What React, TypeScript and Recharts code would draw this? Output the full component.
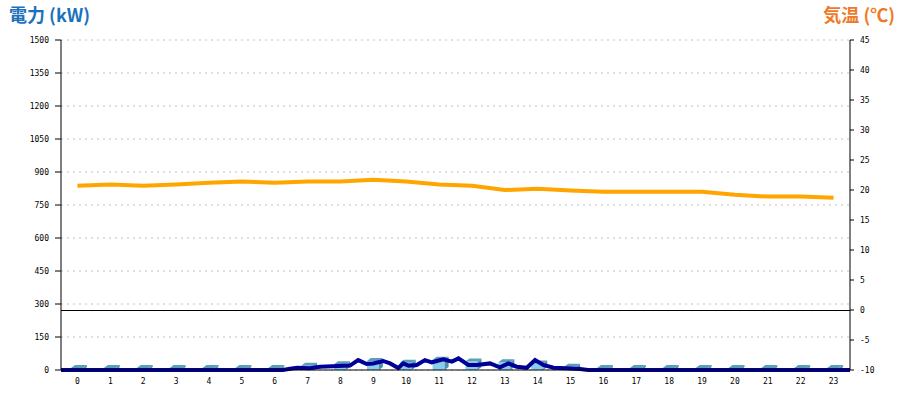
import { ComposedChart, Bar, Line, XAxis, YAxis, CartesianGrid, ReferenceLine } from 'recharts';

const hours = [0, 1, 2, 3, 4, 5, 6, 7, 8, 9, 10, 11, 12, 13, 14, 15, 16, 17, 18, 19, 20, 21, 22, 23];
const temps = [20.7, 20.9, 20.7, 20.9, 21.2, 21.4, 21.2, 21.4, 21.4, 21.7, 21.4, 20.9, 20.7, 20.0, 20.2, 19.9, 19.7, 19.7, 19.7, 19.7, 19.2, 18.9, 18.9, 18.7];
const hourlyKw = [0, 0, 0, 0, 0, 0, 0, 10, 17, 32, 24, 38, 29, 26, 21, 6, 0, 0, 0, 0, 0, 0, 0, 0];

// power readings, time in hours
const powerTimes = [-0.5, 6.25, 6.47, 6.68, 7.07, 7.38, 8.29, 8.54, 8.8, 9.0, 9.3, 9.51, 9.76, 9.91, 10.07, 10.32, 10.57, 10.78, 11.13, 11.39, 11.59, 11.89, 12.15, 12.55, 12.85, 13.11, 13.36, 13.67, 13.92, 14.17, 14.48, 14.88, 15.29, 15.53, 23.5];
const powerKw = [0, 0, 6, 10, 8, 15, 20, 45, 27, 30, 41, 30, 9, 30, 20, 23, 45, 35, 49, 38, 53, 23, 23, 30, 12, 30, 15, 10, 45, 23, 10, 8, 5, 0, 0];

const kwTicks = [0, 150, 300, 450, 600, 750, 900, 1050, 1200, 1350, 1500];
const tempTicks = [-10, -5, 0, 5, 10, 15, 20, 25, 30, 35, 40, 45];

const chartData = hours.map((h, i) => ({ h, temp: temps[i], kw: hourlyKw[i] }));
const powerData = powerTimes.map((t, i) => ({ t, kw: powerKw[i] }));

const tickStyle = { fontSize: 8, fontFamily: 'DejaVu Sans Mono', fill: '#000' };

function Bar3D(props: any) {
  const { x, y, width, height } = props;
  const base = y + height;
  const top = y - 2;
  const d = 4;
  const dy = 3;
  return (
    <g>
      <rect x={x} y={top} width={width} height={base - top} fill="#87CEEB" />
      <polygon
        points={`${x + width},${top} ${x + width + d},${top - dy} ${x + width + d},${base - dy} ${x + width},${base}`}
        fill="#4F8FAE"
      />
      <polygon
        points={`${x},${top} ${x + width},${top} ${x + width + d},${top - dy} ${x + d},${top - dy}`}
        fill="#5B9DBB"
      />
    </g>
  );
}

const titleStyle = {
  position: 'absolute' as const,
  top: 4,
  fontFamily: '"Noto Sans CJK JP"',
  fontWeight: 'bold' as const,
  fontSize: 18,
  lineHeight: 1.2,
};

export default function App() {
  return (
    <div style={{ position: 'absolute', left: 0, top: 0, width: 900, height: 400, background: '#fff' }}>
      <div style={{ ...titleStyle, left: 9, color: '#1B72BC' }}>電力 (kW)</div>
      <div style={{ ...titleStyle, right: 5, color: '#EE7A2A' }}>気温 (℃)</div>
      <ComposedChart width={900} height={400} data={chartData} margin={{ top: 40, right: 10, left: 0, bottom: 10 }}>
        <CartesianGrid yAxisId="left" vertical={false} stroke="#c0c0c0" strokeDasharray="2 4" />
        <XAxis
          dataKey="h"
          interval={0}
          tickLine={false}
          axisLine={{ stroke: '#000' }}
          tick={tickStyle}
          tickMargin={2}
          height={20}
        />
        <XAxis xAxisId="num" type="number" dataKey="t" domain={[-0.5, 23.5]} hide allowDataOverflow />
        <YAxis
          yAxisId="left"
          width={61}
          domain={[0, 1500]}
          ticks={kwTicks}
          interval={0}
          tick={tickStyle}
          tickSize={6}
          tickMargin={6}
          axisLine={{ stroke: '#000' }}
          tickLine={{ stroke: '#000' }}
        />
        <YAxis
          yAxisId="right"
          orientation="right"
          width={40}
          domain={[-10, 45]}
          ticks={tempTicks}
          interval={0}
          tick={tickStyle}
          tickSize={4}
          tickMargin={6}
          axisLine={{ stroke: '#000' }}
          tickLine={{ stroke: '#000' }}
        />
        <ReferenceLine yAxisId="right" y={0} stroke="#000" shapeRendering="crispEdges" />
        <Bar yAxisId="left" dataKey="kw" barSize={12} shape={<Bar3D />} isAnimationActive={false} />
        <Line
          xAxisId="num"
          yAxisId="left"
          data={powerData}
          dataKey="kw"
          type="linear"
          stroke="#000099"
          strokeWidth={4}
          dot={false}
          isAnimationActive={false}
        />
        <Line
          yAxisId="right"
          dataKey="temp"
          type="linear"
          stroke="#FFA500"
          strokeWidth={4}
          dot={false}
          isAnimationActive={false}
        />
      </ComposedChart>
    </div>
  );
}
